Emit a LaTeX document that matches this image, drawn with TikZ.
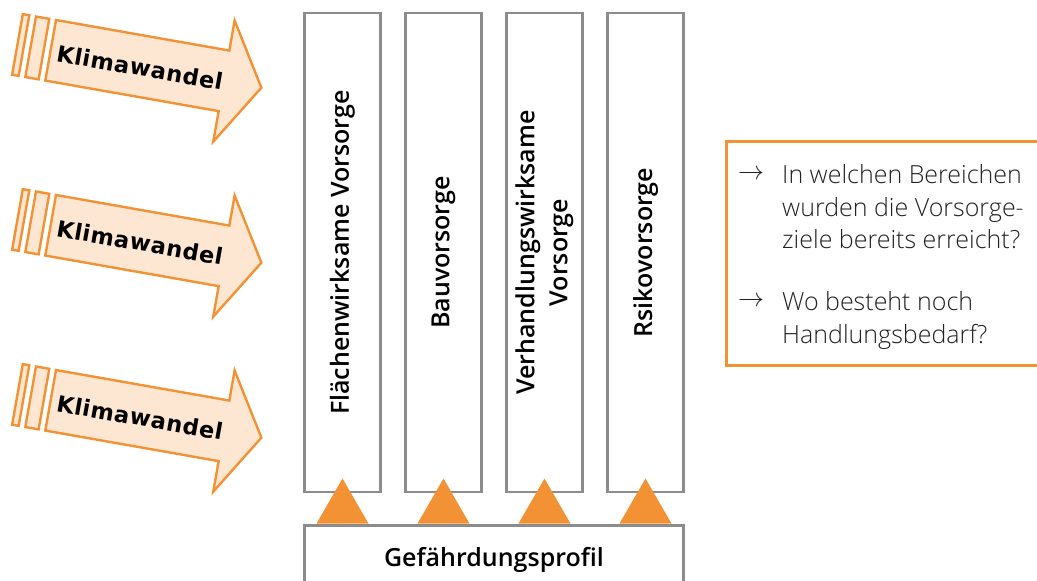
\documentclass[tikz,border=0pt]{standalone}
\usepackage{fontspec}
\setmainfont{Open Sans}
\IfFontExistsTF{Open Sans SemiBold}{\newfontfamily\semib{Open Sans SemiBold}}{%
  \IfFontExistsTF{Open Sans Semibold}{\newfontfamily\semib{Open Sans Semibold}}{%
    \newfontfamily\semib{Open Sans}[FakeBold=1.2]}}
\IfFontExistsTF{Open Sans Light}{\newfontfamily\lightf{Open Sans Light}}{\newfontfamily\lightf{Open Sans}}
\newfontfamily\dejavu{DejaVu Sans Bold}[LetterSpace=2.5]
\definecolor{orangeA}{HTML}{F39234}
\definecolor{peach}{HTML}{FDE7D2}
\definecolor{grayB}{HTML}{8C8C8C}
\definecolor{textG}{HTML}{222222}
\begin{document}
\begin{tikzpicture}[x=1pt,y=-1pt,
  colbox/.style={draw=grayB, line width=2.6pt, minimum width=479pt, minimum height=76pt,
    inner sep=0pt, rotate=90, align=center, text=black,
    font=\semib\fontsize{25}{33}\selectfont},
  basebox/.style={draw=grayB, line width=2.6pt, minimum width=379pt, minimum height=90pt, inner sep=0pt},
  lbl/.style={text=black, font=\semib\fontsize{25}{30}\selectfont, inner sep=0pt},
  tri/.style={fill=orangeA},
  kwarrow/.style={draw=orangeA, fill=peach, line width=2.4pt, line join=miter},
  kwtext/.style={text=black, font=\dejavu\fontsize{22.5}{28}\selectfont, inner sep=0pt},
  qbox/.style={draw=orangeA, line width=3pt, minimum width=360pt, minimum height=223.5pt, inner sep=0pt},
  qtext/.style={text=textG, font=\lightf\fontsize{25}{32.5}\selectfont, align=left, inner sep=0pt},
  qarrow/.style={text=textG, inner sep=0pt}
]
\useasboundingbox (0,0) rectangle (1037,581);
\clip (0,0) rectangle (1037,581);

% Klimawandel arrows
\foreach \i/\yy in {1/20,2/195,3/370}{
  \begin{scope}[shift={(56,\yy)}, rotate=-10]
    \draw[kwarrow] (0,0) -- (176,0) -- (176,-30.5) -- (214,31) -- (176,92.5) -- (176,61.5) -- (0,61.5) -- cycle;
    \draw[kwarrow] (-20.3,0) rectangle (-6.8,61.5);
    \draw[kwarrow] (-33.7,0) rectangle (-27.1,61.5);
    \node[kwtext, anchor=base west, rotate=-10] (kw\i) at (6.5,40.5) {Klimawandel};
  \end{scope}
}

% columns
\node[colbox] (c1) at (342.5,252.5) {Flächenwirksame Vorsorge};
\node[colbox] (c2) at (443.5,252.5) {Bauvorsorge};
\node[colbox] (c3) at (544.5,252.5) {Verhandlungswirksame\\Vorsorge};
\node[colbox] (c4) at (645.5,252.5) {Rsikovorsorge};

% base box
\node[basebox, anchor=north] (gp) at (494,524) {};
\node[lbl, anchor=base] (gpt) at (494,566) {Gefährdungsprofil};

% triangles
\foreach \xx in {342.5,443.5,544.5,645.5}{
  \fill[tri] (\xx-26,523.5) -- (\xx,478.5) -- (\xx+26,523.5) -- cycle;
}

% question box
\node[qbox, anchor=north west] (q) at (725,140) {};
\node[qarrow] (a1) at (751,175) {\scalebox{2.6}{$\rightarrow$}};
\node[qtext, anchor=base west] (q1) at (782,248.5) {In welchen Bereichen\\wurden die Vorsorge-\\ziele bereits erreicht?};
\node[qarrow] (a2) at (751,302) {\scalebox{2.6}{$\rightarrow$}};
\node[qtext, anchor=base west] (q2) at (782,343) {Wo besteht noch\\Handlungsbedarf?};
\end{tikzpicture}
\end{document}
